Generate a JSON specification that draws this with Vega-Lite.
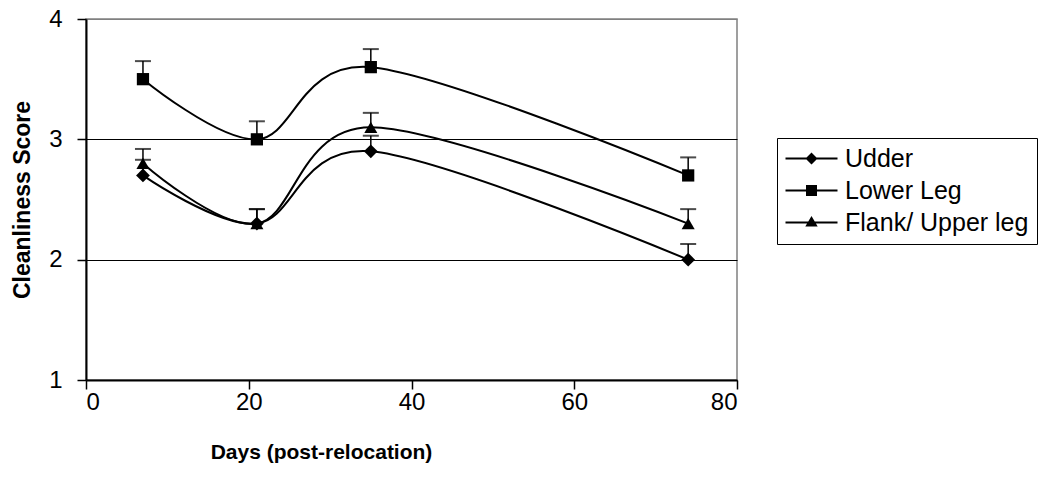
{
  "$schema": "https://vega.github.io/schema/vega-lite/v6.json",
  "width": 651,
  "height": 361,
  "autosize": {"type": "none"},
  "padding": {"left": 86, "top": 19, "right": 317, "bottom": 107},
  "background": "white",
  "config": {
    "font": "Liberation Sans",
    "view": {"stroke": "#808080", "strokeWidth": 1.5},
    "axis": {
      "domainColor": "black",
      "domainWidth": 2,
      "tickColor": "black",
      "tickWidth": 1.5,
      "tickSize": 9,
      "labelFont": "Liberation Sans",
      "labelFontSize": 24,
      "labelColor": "black",
      "titleFont": "Liberation Sans",
      "titleFontWeight": "bold",
      "titleColor": "black"
    }
  },
  "data": {
    "values": [
      {"day": 7, "series": "Udder", "score": 2.7, "upper": 2.83},
      {"day": 21, "series": "Udder", "score": 2.3, "upper": 2.42},
      {"day": 35, "series": "Udder", "score": 2.9, "upper": 3.03},
      {"day": 74, "series": "Udder", "score": 2.0, "upper": 2.13},
      {"day": 7, "series": "Lower Leg", "score": 3.5, "upper": 3.65},
      {"day": 21, "series": "Lower Leg", "score": 3.0, "upper": 3.15},
      {"day": 35, "series": "Lower Leg", "score": 3.6, "upper": 3.75},
      {"day": 74, "series": "Lower Leg", "score": 2.7, "upper": 2.85},
      {"day": 7, "series": "Flank/ Upper leg", "score": 2.8, "upper": 2.92},
      {"day": 21, "series": "Flank/ Upper leg", "score": 2.3, "upper": 2.42},
      {"day": 35, "series": "Flank/ Upper leg", "score": 3.1, "upper": 3.22},
      {"day": 74, "series": "Flank/ Upper leg", "score": 2.3, "upper": 2.42}
    ]
  },
  "encoding": {
    "x": {
      "field": "day",
      "type": "quantitative",
      "scale": {"domain": [0, 80], "nice": false, "zero": false},
      "axis": {
        "title": "Days (post-relocation)",
        "titleFontSize": 21,
        "values": [0, 20, 40, 60, 80],
        "grid": false,
        "labelPadding": 1,
        "titleX": 235,
        "titleY": 72,
        "titleBaseline": "middle"
      }
    },
    "y": {
      "field": "score",
      "type": "quantitative",
      "scale": {"domain": [1, 4], "nice": false, "zero": false},
      "axis": {
        "title": "Cleanliness Score",
        "titleFontSize": 23,
        "values": [1, 2, 3, 4],
        "grid": true,
        "gridColor": {"condition": {"test": "datum.value == 4", "value": "#808080"}, "value": "black"},
        "gridWidth": 1,
        "labelPadding": 15,
        "titleX": -64,
        "titleBaseline": "middle"
      }
    }
  },
  "layer": [
    {
      "mark": {"type": "rule", "color": "black", "strokeWidth": 1.5},
      "encoding": {"y2": {"field": "upper"}}
    },
    {
      "mark": {"type": "tick", "orient": "horizontal", "color": "black", "size": 16, "thickness": 2},
      "encoding": {"y": {"field": "upper", "type": "quantitative"}}
    },
    {
      "mark": {"type": "line", "interpolate": "cardinal", "color": "black", "strokeWidth": 2},
      "encoding": {"detail": {"field": "series"}}
    },
    {
      "transform": [{"filter": "datum.series === 'Udder'"}],
      "mark": {"type": "point", "shape": "diamond", "filled": true, "color": "black", "opacity": 1, "size": 190}
    },
    {
      "transform": [{"filter": "datum.series === 'Lower Leg'"}],
      "mark": {"type": "point", "shape": "square", "filled": true, "color": "black", "opacity": 1, "size": 150}
    },
    {
      "transform": [{"filter": "datum.series === 'Flank/ Upper leg'"}],
      "mark": {"type": "point", "shape": "triangle-up", "filled": true, "color": "black", "opacity": 1, "size": 170}
    },
    {
      "mark": {"type": "point", "filled": true, "color": "black", "opacity": 0, "size": 400},
      "encoding": {
        "shape": {
          "field": "series",
          "scale": {
            "domain": ["Udder", "Lower Leg", "Flank/ Upper leg"],
            "range": [
              "M-1.2,-0.1L4,-0.1L4,0.1L-1.2,0.1ZM1.4,-0.6L2,0L1.4,0.6L0.8,0Z",
              "M-1.2,-0.1L4,-0.1L4,0.1L-1.2,0.1ZM0.85,-0.55L1.95,-0.55L1.95,0.55L0.85,0.55Z",
              "M-1.2,-0.1L4,-0.1L4,0.1L-1.2,0.1ZM1.4,-0.65L2.02,0.4L0.78,0.4Z"
            ]
          },
          "legend": {
            "title": null,
            "orient": "none",
            "legendX": 691,
            "legendY": 119,
            "strokeColor": "black",
            "padding": 8,
            "symbolSize": 400,
            "labelFont": "Liberation Sans",
            "labelFontSize": 25,
            "labelColor": "black",
            "labelOffset": 35,
            "labelLimit": 300,
            "rowPadding": 6,
            "encode": {
              "symbols": {
                "update": {
                  "fill": {"value": "black"},
                  "opacity": {"value": 1}
                }
              }
            }
          }
        }
      }
    }
  ]
}
